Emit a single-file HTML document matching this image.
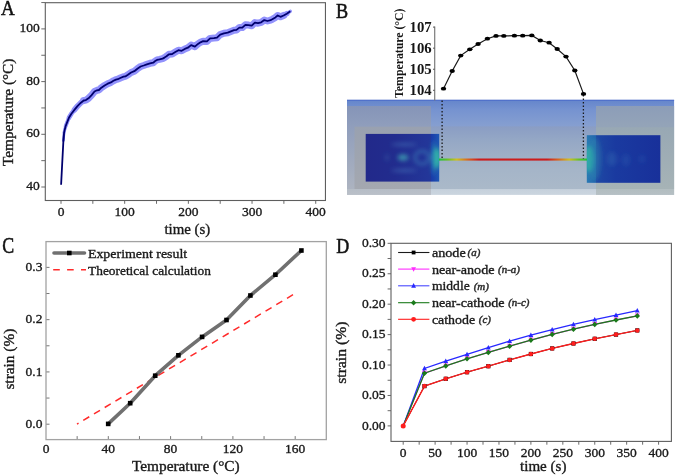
<!DOCTYPE html>
<html><head><meta charset="utf-8"><style>
html,body{margin:0;padding:0;background:#fff;}
body{width:675px;height:476px;overflow:hidden;}
svg{display:block;font-family:"Liberation Serif", serif;will-change:transform;}
</style></head><body>
<svg width="675" height="476" viewBox="0 0 675 476">
<defs>
<linearGradient id="bgM" x1="0" y1="99.5" x2="0" y2="194.9" gradientUnits="userSpaceOnUse">
<stop offset="0" stop-color="#4f70c6"/>
<stop offset="0.015" stop-color="#6686cc"/>
<stop offset="0.11" stop-color="#7693d0"/>
<stop offset="0.28" stop-color="#869fd0"/>
<stop offset="0.285" stop-color="#8a9dc4"/>
<stop offset="0.42" stop-color="#94a7c5"/>
<stop offset="0.58" stop-color="#9eafc6"/>
<stop offset="0.74" stop-color="#a5b5c8"/>
<stop offset="0.937" stop-color="#aab9c9"/>
<stop offset="0.944" stop-color="#c6d1dc"/>
<stop offset="1" stop-color="#cbd5df"/>
</linearGradient>
<linearGradient id="bgL" x1="0" y1="106" x2="0" y2="194.9" gradientUnits="userSpaceOnUse">
<stop offset="0" stop-color="#8594b8"/>
<stop offset="0.23" stop-color="#909ebc"/>
<stop offset="0.93" stop-color="#acb3c0"/>
<stop offset="0.937" stop-color="#b6bdc6"/>
<stop offset="1" stop-color="#bac0c8"/>
</linearGradient>
<linearGradient id="bgLi" x1="0" y1="126.7" x2="0" y2="189" gradientUnits="userSpaceOnUse">
<stop offset="0" stop-color="#99a1b0"/>
<stop offset="1" stop-color="#a4a8b0"/>
</linearGradient>
<linearGradient id="bgR" x1="0" y1="106" x2="0" y2="194.9" gradientUnits="userSpaceOnUse">
<stop offset="0" stop-color="#8c9db8"/>
<stop offset="0.235" stop-color="#94a4b8"/>
<stop offset="0.245" stop-color="#98a8b4"/>
<stop offset="0.93" stop-color="#a6b3b6"/>
<stop offset="0.937" stop-color="#b2bdc0"/>
<stop offset="1" stop-color="#b6c0c4"/>
</linearGradient>
<linearGradient id="wire" x1="439" y1="0" x2="587" y2="0" gradientUnits="userSpaceOnUse">
<stop offset="0" stop-color="#20c040"/>
<stop offset="0.05" stop-color="#60c028"/>
<stop offset="0.12" stop-color="#d0c020"/>
<stop offset="0.2" stop-color="#d86020"/>
<stop offset="0.27" stop-color="#cc1c1c"/>
<stop offset="0.73" stop-color="#cc1c1c"/>
<stop offset="0.8" stop-color="#d86020"/>
<stop offset="0.88" stop-color="#d0c020"/>
<stop offset="0.95" stop-color="#60c028"/>
<stop offset="1" stop-color="#20c040"/>
</linearGradient>
<linearGradient id="elL" x1="365.7" y1="0" x2="431" y2="0" gradientUnits="userSpaceOnUse">
<stop offset="0" stop-color="#22298a"/>
<stop offset="0.45" stop-color="#222c8e"/>
<stop offset="1" stop-color="#23379a"/>
</linearGradient>
<linearGradient id="elLs" x1="431" y1="0" x2="439.2" y2="0" gradientUnits="userSpaceOnUse">
<stop offset="0" stop-color="#1a3aa8"/>
<stop offset="1" stop-color="#1e56b4"/>
</linearGradient>
<linearGradient id="elRs" x1="586.8" y1="0" x2="596" y2="0" gradientUnits="userSpaceOnUse">
<stop offset="0" stop-color="#2a7ab4"/>
<stop offset="1" stop-color="#2060ac"/>
</linearGradient>
<linearGradient id="elR" x1="596" y1="0" x2="660.4" y2="0" gradientUnits="userSpaceOnUse">
<stop offset="0" stop-color="#1e48a4"/>
<stop offset="0.3" stop-color="#1a3aa0"/>
<stop offset="1" stop-color="#18309a"/>
</linearGradient>
<radialGradient id="glowL" cx="437" cy="158" r="12" gradientUnits="userSpaceOnUse">
<stop offset="0" stop-color="#30c8a0" stop-opacity="0.95"/>
<stop offset="0.5" stop-color="#2aa0a8" stop-opacity="0.6"/>
<stop offset="1" stop-color="#2a80b0" stop-opacity="0"/>
</radialGradient>
<radialGradient id="glowR" cx="589" cy="159" r="13" gradientUnits="userSpaceOnUse">
<stop offset="0" stop-color="#30c8a0" stop-opacity="0.95"/>
<stop offset="0.5" stop-color="#2aa8a8" stop-opacity="0.6"/>
<stop offset="1" stop-color="#2a80b0" stop-opacity="0"/>
</radialGradient>
<filter id="blur1" x="-50%" y="-50%" width="200%" height="200%"><feGaussianBlur stdDeviation="1.6"/></filter>
<filter id="blur2" x="-50%" y="-50%" width="200%" height="200%"><feGaussianBlur stdDeviation="2.2"/></filter>
<clipPath id="cL"><rect x="365.7" y="133.9" width="73.5" height="47.7"/></clipPath>
<clipPath id="cR"><rect x="586.8" y="135.2" width="73.6" height="47.6"/></clipPath>
</defs>

<text transform="translate(0.88,15.30) scale(0.868,1)" font-size="21.9" stroke="#111" stroke-width="0.55" fill="#111">A</text>
<line x1="41.3" y1="187.00" x2="45.3" y2="187.00" stroke="#6a6a6a" stroke-width="1"/>
<line x1="41.3" y1="160.65" x2="45.3" y2="160.65" stroke="#6a6a6a" stroke-width="1"/>
<line x1="41.3" y1="134.30" x2="45.3" y2="134.30" stroke="#6a6a6a" stroke-width="1"/>
<line x1="41.3" y1="107.95" x2="45.3" y2="107.95" stroke="#6a6a6a" stroke-width="1"/>
<line x1="41.3" y1="81.60" x2="45.3" y2="81.60" stroke="#6a6a6a" stroke-width="1"/>
<line x1="41.3" y1="55.25" x2="45.3" y2="55.25" stroke="#6a6a6a" stroke-width="1"/>
<line x1="41.3" y1="28.90" x2="45.3" y2="28.90" stroke="#6a6a6a" stroke-width="1"/>
<line x1="41.3" y1="2.55" x2="45.3" y2="2.55" stroke="#6a6a6a" stroke-width="1"/>
<text transform="translate(39.70,190.10)" font-size="13.5" text-anchor="end" stroke="#1a1a1a" stroke-width="0.35" fill="#1a1a1a">40</text>
<text transform="translate(39.70,137.40)" font-size="13.5" text-anchor="end" stroke="#1a1a1a" stroke-width="0.35" fill="#1a1a1a">60</text>
<text transform="translate(39.70,84.70)" font-size="13.5" text-anchor="end" stroke="#1a1a1a" stroke-width="0.35" fill="#1a1a1a">80</text>
<text transform="translate(39.70,32.00)" font-size="13.5" text-anchor="end" stroke="#1a1a1a" stroke-width="0.35" fill="#1a1a1a">100</text>
<line x1="61.00" y1="200.5" x2="61.00" y2="203.8" stroke="#6a6a6a" stroke-width="1"/>
<line x1="92.84" y1="200.5" x2="92.84" y2="203.8" stroke="#6a6a6a" stroke-width="1"/>
<line x1="124.68" y1="200.5" x2="124.68" y2="203.8" stroke="#6a6a6a" stroke-width="1"/>
<line x1="156.52" y1="200.5" x2="156.52" y2="203.8" stroke="#6a6a6a" stroke-width="1"/>
<line x1="188.36" y1="200.5" x2="188.36" y2="203.8" stroke="#6a6a6a" stroke-width="1"/>
<line x1="220.20" y1="200.5" x2="220.20" y2="203.8" stroke="#6a6a6a" stroke-width="1"/>
<line x1="252.04" y1="200.5" x2="252.04" y2="203.8" stroke="#6a6a6a" stroke-width="1"/>
<line x1="283.88" y1="200.5" x2="283.88" y2="203.8" stroke="#6a6a6a" stroke-width="1"/>
<line x1="315.72" y1="200.5" x2="315.72" y2="203.8" stroke="#6a6a6a" stroke-width="1"/>
<text transform="translate(61.00,215.80)" font-size="13.5" text-anchor="middle" stroke="#1a1a1a" stroke-width="0.35" fill="#1a1a1a">0</text>
<text transform="translate(124.68,215.80)" font-size="13.5" text-anchor="middle" stroke="#1a1a1a" stroke-width="0.35" fill="#1a1a1a">100</text>
<text transform="translate(188.36,215.80)" font-size="13.5" text-anchor="middle" stroke="#1a1a1a" stroke-width="0.35" fill="#1a1a1a">200</text>
<text transform="translate(252.04,215.80)" font-size="13.5" text-anchor="middle" stroke="#1a1a1a" stroke-width="0.35" fill="#1a1a1a">300</text>
<text transform="translate(315.72,215.80)" font-size="13.5" text-anchor="middle" stroke="#1a1a1a" stroke-width="0.35" fill="#1a1a1a">400</text>
<text transform="translate(164.40,233.50) scale(1.064,1)" font-size="14" stroke="#1a1a1a" stroke-width="0.35" fill="#1a1a1a">time (s)</text>
<text transform="translate(13.20,166.00) rotate(-90) scale(1.094,1)" font-size="14" stroke="#1a1a1a" stroke-width="0.35" fill="#1a1a1a">Temperature (°C)</text>
<polyline points="63.4,140.7 64.1,132.4 65.6,126.3" fill="none" stroke="#5050d8" stroke-width="2.5" stroke-linejoin="round" stroke-linecap="round"/>
<polyline points="64.1,132.4 65.6,126.3 67.4,121.6" fill="none" stroke="#9292fc" stroke-width="3.0" stroke-linejoin="round" stroke-linecap="round"/>
<polyline points="65.6,126.3 67.4,121.6 68.9,117.8 71.4,113.7" fill="none" stroke="#9292fc" stroke-width="3.8" stroke-linejoin="round" stroke-linecap="round"/>
<polyline points="68.9,117.8 71.4,113.7 74.6,109.6 77.7,105.9" fill="none" stroke="#9292fc" stroke-width="4.6" stroke-linejoin="round" stroke-linecap="round"/>
<polyline points="74.6,109.6 77.7,105.9 80.9,102.7 83.7,100.5 85.9,100.1" fill="none" stroke="#9292fc" stroke-width="5.6" stroke-linejoin="round" stroke-linecap="round"/>
<polyline points="83.7,100.5 85.9,100.1 88.5,98.3 91.6,95.1 94.5,91.5 97.0,90.3 98.9,90.0 101.4,87.7 104.6,85.5 107.7,83.7 110.9,82.4 113.4,80.8 115.9,79.6 117.8,79.2 120.3,78.0 123.5,76.7 125.4,76.4 127.9,74.8 131.1,72.5 134.3,71.2 137.4,68.7 140.6,66.5 143.7,65.5 146.9,64.3 150.0,63.3 153.2,62.7 155.1,61.1 157.0,59.9 159.5,59.4 162.6,58.6 164.5,57.6 166.5,56.3 169.0,54.3 172.2,54.0 175.3,52.1 178.5,50.2 181.6,50.8 184.8,48.9 187.9,47.7 191.1,45.1 194.9,46.7 198.0,43.9 200.5,42.3 203.1,41.2 206.9,41.4 210.1,38.4 213.9,38.1 217.0,37.7 220.2,34.6 223.9,33.3 227.7,32.7 230.9,31.4 234.0,30.2 236.5,29.9 239.4,27.6 242.3,27.6 245.4,24.8 248.6,25.1 251.7,25.7 254.9,22.6 258.0,23.2 261.2,22.3 264.3,20.1 267.5,21.0 270.6,20.1 272.3,19.3 275.4,17.4 277.7,15.5 280.5,16.8 283.6,15.5" fill="none" stroke="#9292fc" stroke-width="7.0" stroke-linejoin="round" stroke-linecap="round"/>
<polyline points="280.5,16.8 283.6,15.5 286.8,13.7" fill="none" stroke="#9292fc" stroke-width="5.4" stroke-linejoin="round" stroke-linecap="round"/>
<polyline points="283.6,15.5 286.8,13.7 290.3,11.3" fill="none" stroke="#9292fc" stroke-width="3.4" stroke-linejoin="round" stroke-linecap="round"/>
<polyline points="61.1,184.7 62.2,163.5 63.4,140.7 64.1,132.4 65.6,126.3 67.4,121.6 68.9,117.8 71.4,113.7 74.6,109.6 77.7,105.9 80.9,102.7 83.7,100.5 85.9,100.1 88.5,98.3 91.6,95.1 94.5,91.5 97.0,90.3 98.9,90.0 101.4,87.7 104.6,85.5 107.7,83.7 110.9,82.4 113.4,80.8 115.9,79.6 117.8,79.2 120.3,78.0 123.5,76.7 125.4,76.4 127.9,74.8 131.1,72.5 134.3,71.2 137.4,68.7 140.6,66.5 143.7,65.5 146.9,64.3 150.0,63.3 153.2,62.7 155.1,61.1 157.0,59.9 159.5,59.4 162.6,58.6 164.5,57.6 166.5,56.3 169.0,54.3 172.2,54.0 175.3,52.1 178.5,50.2 181.6,50.8 184.8,48.9 187.9,47.7 191.1,45.1 194.9,46.7 198.0,43.9 200.5,42.3 203.1,41.2 206.9,41.4 210.1,38.4 213.9,38.1 217.0,37.7 220.2,34.6 223.9,33.3 227.7,32.7 230.9,31.4 234.0,30.2 236.5,29.9 239.4,27.6 242.3,27.6 245.4,24.8 248.6,25.1 251.7,25.7 254.9,22.6 258.0,23.2 261.2,22.3 264.3,20.1 267.5,21.0 270.6,20.1 272.3,19.3 275.4,17.4 277.7,15.5 280.5,16.8 283.6,15.5 286.8,13.7 290.3,11.3" fill="none" stroke="#00006e" stroke-width="1.8" stroke-linejoin="round"/>
<rect x="45.3" y="2.7" width="280.15" height="197.80" fill="none" stroke="#5e5e5e" stroke-width="1.1"/>
<text transform="translate(336.10,17.90) scale(0.843,1)" font-size="21.6" stroke="#111" stroke-width="0.55" fill="#111">B</text>
<rect x="347" y="99.75" width="327.1" height="95.15" fill="url(#bgM)"/>
<rect x="347" y="106" width="84" height="88.9" fill="url(#bgL)"/>
<rect x="354.5" y="126.7" width="76.5" height="62.3" fill="url(#bgLi)"/>
<rect x="596" y="106" width="78.1" height="88.9" fill="url(#bgR)"/>
<rect x="365.7" y="133.9" width="65.3" height="47.7" fill="url(#elL)"/>
<rect x="431" y="133.9" width="8.2" height="47.7" fill="url(#elLs)"/>
<g clip-path="url(#cL)"><g filter="url(#blur2)"><ellipse cx="404" cy="144.5" rx="13" ry="1.4" fill="#4a80c0" opacity="0.55"/><ellipse cx="404" cy="170.5" rx="13" ry="1.4" fill="#4a80c0" opacity="0.55"/><ellipse cx="403" cy="157.5" rx="5.5" ry="3.2" fill="#40a8b4" opacity="0.75"/><ellipse cx="422" cy="157.5" rx="7" ry="6.5" fill="none" stroke="#4088bc" stroke-width="2.6" opacity="0.6"/><ellipse cx="387" cy="157.5" rx="2" ry="3.5" fill="#3a70b0" opacity="0.35"/><ellipse cx="436.5" cy="158" rx="4" ry="10.5" fill="#34c4a4" opacity="0.95"/><ellipse cx="434" cy="158" rx="3" ry="17" fill="#2a8ab4" opacity="0.55"/></g></g>
<rect x="586.8" y="135.2" width="9.2" height="47.6" fill="url(#elRs)"/>
<rect x="596" y="135.2" width="64.4" height="47.6" fill="url(#elR)"/>
<g clip-path="url(#cR)"><g filter="url(#blur2)"><ellipse cx="589" cy="159" rx="5" ry="13" fill="#30c0a4" opacity="0.85"/><ellipse cx="594" cy="159" rx="7" ry="22" fill="#2a8ab0" opacity="0.45"/><ellipse cx="612" cy="159" rx="5" ry="7" fill="#3070b4" opacity="0.35"/><ellipse cx="626" cy="160" rx="4" ry="6" fill="#3068b4" opacity="0.3"/><ellipse cx="642" cy="159" rx="3" ry="4" fill="#3068b4" opacity="0.25"/></g></g>
<rect x="439" y="158.5" width="148" height="2.1" fill="url(#wire)"/>
<line x1="347" y1="100.4" x2="674.1" y2="100.4" stroke="#4e6ec8" stroke-width="0.9"/>
<line x1="442.1" y1="100.5" x2="442.1" y2="158.5" stroke="#1a1a1a" stroke-width="1.3" stroke-dasharray="1.6,1.9"/>
<line x1="583.4" y1="95" x2="583.4" y2="158.5" stroke="#1a1a1a" stroke-width="1.3" stroke-dasharray="1.6,1.9"/>
<line x1="434.7" y1="26.6" x2="434.7" y2="100.6" stroke="#7a7a7a" stroke-width="1.2"/>
<line x1="433" y1="27.10" x2="434.7" y2="27.10" stroke="#555" stroke-width="1"/>
<text transform="translate(431.70,31.90) scale(1.070,1)" font-size="13.8" text-anchor="end" font-weight="bold" fill="#151515">107</text>
<line x1="433" y1="48.17" x2="434.7" y2="48.17" stroke="#555" stroke-width="1"/>
<text transform="translate(431.70,52.97) scale(1.070,1)" font-size="13.8" text-anchor="end" font-weight="bold" fill="#151515">106</text>
<line x1="433" y1="69.24" x2="434.7" y2="69.24" stroke="#555" stroke-width="1"/>
<text transform="translate(431.70,74.04) scale(1.070,1)" font-size="13.8" text-anchor="end" font-weight="bold" fill="#151515">105</text>
<line x1="433" y1="90.31" x2="434.7" y2="90.31" stroke="#555" stroke-width="1"/>
<text transform="translate(431.70,95.11) scale(1.070,1)" font-size="13.8" text-anchor="end" font-weight="bold" fill="#151515">104</text>
<text transform="translate(403.10,97.90) rotate(-90) scale(0.983,1)" font-size="12" font-weight="bold" fill="#151515">Temperature (°C)</text>
<polyline points="443.5,88.7 452.2,71 460.7,55.6 469.8,49.3 478.1,44 487.4,38.7 496,35.9 503.8,35.9 514.4,35.7 522.7,35.7 531.8,35.4 540.3,40.5 549.1,42.7 557.2,49 566,56.6 574.8,70.5 583.5,93.9" fill="none" stroke="#1a1a1a" stroke-width="1.2"/>
<ellipse cx="443.5" cy="88.7" rx="2.7" ry="1.9" fill="#000"/>
<ellipse cx="452.2" cy="71" rx="2.7" ry="1.9" fill="#000"/>
<ellipse cx="460.7" cy="55.6" rx="2.7" ry="1.9" fill="#000"/>
<ellipse cx="469.8" cy="49.3" rx="2.7" ry="1.9" fill="#000"/>
<ellipse cx="478.1" cy="44" rx="2.7" ry="1.9" fill="#000"/>
<ellipse cx="487.4" cy="38.7" rx="2.7" ry="1.9" fill="#000"/>
<ellipse cx="496" cy="35.9" rx="2.7" ry="1.9" fill="#000"/>
<ellipse cx="503.8" cy="35.9" rx="2.7" ry="1.9" fill="#000"/>
<ellipse cx="514.4" cy="35.7" rx="2.7" ry="1.9" fill="#000"/>
<ellipse cx="522.7" cy="35.7" rx="2.7" ry="1.9" fill="#000"/>
<ellipse cx="531.8" cy="35.4" rx="2.7" ry="1.9" fill="#000"/>
<ellipse cx="540.3" cy="40.5" rx="2.7" ry="1.9" fill="#000"/>
<ellipse cx="549.1" cy="42.7" rx="2.7" ry="1.9" fill="#000"/>
<ellipse cx="557.2" cy="49" rx="2.7" ry="1.9" fill="#000"/>
<ellipse cx="566" cy="56.6" rx="2.7" ry="1.9" fill="#000"/>
<ellipse cx="574.8" cy="70.5" rx="2.7" ry="1.9" fill="#000"/>
<ellipse cx="583.5" cy="93.9" rx="2.7" ry="1.9" fill="#000"/>
<text transform="translate(2.15,252.70) scale(0.797,1)" font-size="22.4" stroke="#111" stroke-width="0.55" fill="#111">C</text>
<line x1="46.0" y1="424.20" x2="49.5" y2="424.20" stroke="#777" stroke-width="1"/>
<line x1="46.0" y1="398.06" x2="49.5" y2="398.06" stroke="#777" stroke-width="1"/>
<line x1="46.0" y1="371.93" x2="49.5" y2="371.93" stroke="#777" stroke-width="1"/>
<line x1="46.0" y1="345.79" x2="49.5" y2="345.79" stroke="#777" stroke-width="1"/>
<line x1="46.0" y1="319.66" x2="49.5" y2="319.66" stroke="#777" stroke-width="1"/>
<line x1="46.0" y1="293.52" x2="49.5" y2="293.52" stroke="#777" stroke-width="1"/>
<line x1="46.0" y1="267.39" x2="49.5" y2="267.39" stroke="#777" stroke-width="1"/>
<text transform="translate(42.40,427.90)" font-size="13.5" text-anchor="end" stroke="#1a1a1a" stroke-width="0.35" fill="#1a1a1a">0.0</text>
<text transform="translate(42.40,375.63)" font-size="13.5" text-anchor="end" stroke="#1a1a1a" stroke-width="0.35" fill="#1a1a1a">0.1</text>
<text transform="translate(42.40,323.36)" font-size="13.5" text-anchor="end" stroke="#1a1a1a" stroke-width="0.35" fill="#1a1a1a">0.2</text>
<text transform="translate(42.40,271.09)" font-size="13.5" text-anchor="end" stroke="#1a1a1a" stroke-width="0.35" fill="#1a1a1a">0.3</text>
<line x1="77.15" y1="439.6" x2="77.15" y2="436.1" stroke="#777" stroke-width="1"/>
<line x1="108.30" y1="439.6" x2="108.30" y2="436.1" stroke="#777" stroke-width="1"/>
<line x1="139.45" y1="439.6" x2="139.45" y2="436.1" stroke="#777" stroke-width="1"/>
<line x1="170.60" y1="439.6" x2="170.60" y2="436.1" stroke="#777" stroke-width="1"/>
<line x1="201.75" y1="439.6" x2="201.75" y2="436.1" stroke="#777" stroke-width="1"/>
<line x1="232.90" y1="439.6" x2="232.90" y2="436.1" stroke="#777" stroke-width="1"/>
<line x1="264.05" y1="439.6" x2="264.05" y2="436.1" stroke="#777" stroke-width="1"/>
<line x1="295.20" y1="439.6" x2="295.20" y2="436.1" stroke="#777" stroke-width="1"/>
<text transform="translate(46.00,452.90)" font-size="13.5" text-anchor="middle" stroke="#1a1a1a" stroke-width="0.35" fill="#1a1a1a">0</text>
<text transform="translate(108.30,452.90)" font-size="13.5" text-anchor="middle" stroke="#1a1a1a" stroke-width="0.35" fill="#1a1a1a">40</text>
<text transform="translate(170.60,452.90)" font-size="13.5" text-anchor="middle" stroke="#1a1a1a" stroke-width="0.35" fill="#1a1a1a">80</text>
<text transform="translate(232.90,452.90)" font-size="13.5" text-anchor="middle" stroke="#1a1a1a" stroke-width="0.35" fill="#1a1a1a">120</text>
<text transform="translate(295.20,452.90)" font-size="13.5" text-anchor="middle" stroke="#1a1a1a" stroke-width="0.35" fill="#1a1a1a">160</text>
<text transform="translate(131.90,470.70) scale(1.097,1)" font-size="14" stroke="#1a1a1a" stroke-width="0.35" fill="#1a1a1a">Temperature (°C)</text>
<text transform="translate(13.90,389.60) rotate(-90) scale(1.097,1)" font-size="14" stroke="#1a1a1a" stroke-width="0.35" fill="#1a1a1a">strain (%)</text>
<line x1="77" y1="424.1" x2="296.2" y2="292.8" stroke="#ff2a2a" stroke-width="1.5" stroke-dasharray="7,5.5" stroke-dashoffset="-7.3"/>
<polyline points="108.2,423.9 130.2,403.2 155.2,375.7 178.4,355.3 202.1,336.9 226.5,320 250.4,295.5 275.4,274.7 301.4,250.5" fill="none" stroke="#707070" stroke-width="3.6" stroke-linejoin="round"/>
<rect x="105.9" y="421.6" width="4.6" height="4.6" fill="#000"/>
<rect x="127.9" y="400.9" width="4.6" height="4.6" fill="#000"/>
<rect x="152.9" y="373.4" width="4.6" height="4.6" fill="#000"/>
<rect x="176.1" y="353.0" width="4.6" height="4.6" fill="#000"/>
<rect x="199.8" y="334.6" width="4.6" height="4.6" fill="#000"/>
<rect x="224.2" y="317.7" width="4.6" height="4.6" fill="#000"/>
<rect x="248.1" y="293.2" width="4.6" height="4.6" fill="#000"/>
<rect x="273.1" y="272.4" width="4.6" height="4.6" fill="#000"/>
<rect x="299.1" y="248.2" width="4.6" height="4.6" fill="#000"/>
<line x1="54" y1="253" x2="84.5" y2="253" stroke="#707070" stroke-width="3.6" stroke-linecap="round"/>
<rect x="67" y="250.7" width="4.6" height="4.6" fill="#000"/>
<text transform="translate(87.90,258.20) scale(1.032,1)" font-size="13.5" stroke="#1a1a1a" stroke-width="0.35" fill="#1a1a1a">Experiment result</text>
<line x1="53.2" y1="269.7" x2="86" y2="269.7" stroke="#ff2a2a" stroke-width="1.5" stroke-dasharray="6.6,7.3"/>
<text transform="translate(88.10,274.80) scale(0.990,1)" font-size="13.5" stroke="#1a1a1a" stroke-width="0.35" fill="#1a1a1a">Theoretical calculation</text>
<rect x="46.0" y="241.6" width="280.30" height="198.00" fill="none" stroke="#a2a2a2" stroke-width="1.3"/>
<text transform="translate(336.30,252.90) scale(0.825,1)" font-size="21.8" stroke="#111" stroke-width="0.55" fill="#111">D</text>
<line x1="387.6" y1="425.90" x2="391.0" y2="425.90" stroke="#6a6a6a" stroke-width="1"/>
<line x1="387.6" y1="410.69" x2="391.0" y2="410.69" stroke="#6a6a6a" stroke-width="1"/>
<line x1="387.6" y1="395.47" x2="391.0" y2="395.47" stroke="#6a6a6a" stroke-width="1"/>
<line x1="387.6" y1="380.25" x2="391.0" y2="380.25" stroke="#6a6a6a" stroke-width="1"/>
<line x1="387.6" y1="365.04" x2="391.0" y2="365.04" stroke="#6a6a6a" stroke-width="1"/>
<line x1="387.6" y1="349.82" x2="391.0" y2="349.82" stroke="#6a6a6a" stroke-width="1"/>
<line x1="387.6" y1="334.61" x2="391.0" y2="334.61" stroke="#6a6a6a" stroke-width="1"/>
<line x1="387.6" y1="319.39" x2="391.0" y2="319.39" stroke="#6a6a6a" stroke-width="1"/>
<line x1="387.6" y1="304.18" x2="391.0" y2="304.18" stroke="#6a6a6a" stroke-width="1"/>
<line x1="387.6" y1="288.96" x2="391.0" y2="288.96" stroke="#6a6a6a" stroke-width="1"/>
<line x1="387.6" y1="273.75" x2="391.0" y2="273.75" stroke="#6a6a6a" stroke-width="1"/>
<line x1="387.6" y1="258.53" x2="391.0" y2="258.53" stroke="#6a6a6a" stroke-width="1"/>
<line x1="387.6" y1="243.32" x2="391.0" y2="243.32" stroke="#6a6a6a" stroke-width="1"/>
<text transform="translate(385.60,429.60)" font-size="13.5" text-anchor="end" stroke="#1a1a1a" stroke-width="0.35" fill="#1a1a1a">0.00</text>
<text transform="translate(385.60,399.17)" font-size="13.5" text-anchor="end" stroke="#1a1a1a" stroke-width="0.35" fill="#1a1a1a">0.05</text>
<text transform="translate(385.60,368.74)" font-size="13.5" text-anchor="end" stroke="#1a1a1a" stroke-width="0.35" fill="#1a1a1a">0.10</text>
<text transform="translate(385.60,338.31)" font-size="13.5" text-anchor="end" stroke="#1a1a1a" stroke-width="0.35" fill="#1a1a1a">0.15</text>
<text transform="translate(385.60,307.88)" font-size="13.5" text-anchor="end" stroke="#1a1a1a" stroke-width="0.35" fill="#1a1a1a">0.20</text>
<text transform="translate(385.60,277.45)" font-size="13.5" text-anchor="end" stroke="#1a1a1a" stroke-width="0.35" fill="#1a1a1a">0.25</text>
<text transform="translate(385.60,247.02)" font-size="13.5" text-anchor="end" stroke="#1a1a1a" stroke-width="0.35" fill="#1a1a1a">0.30</text>
<line x1="403.20" y1="441.4" x2="403.20" y2="444.7" stroke="#6a6a6a" stroke-width="1"/>
<line x1="419.16" y1="441.4" x2="419.16" y2="444.7" stroke="#6a6a6a" stroke-width="1"/>
<line x1="435.12" y1="441.4" x2="435.12" y2="444.7" stroke="#6a6a6a" stroke-width="1"/>
<line x1="451.09" y1="441.4" x2="451.09" y2="444.7" stroke="#6a6a6a" stroke-width="1"/>
<line x1="467.05" y1="441.4" x2="467.05" y2="444.7" stroke="#6a6a6a" stroke-width="1"/>
<line x1="483.01" y1="441.4" x2="483.01" y2="444.7" stroke="#6a6a6a" stroke-width="1"/>
<line x1="498.97" y1="441.4" x2="498.97" y2="444.7" stroke="#6a6a6a" stroke-width="1"/>
<line x1="514.94" y1="441.4" x2="514.94" y2="444.7" stroke="#6a6a6a" stroke-width="1"/>
<line x1="530.90" y1="441.4" x2="530.90" y2="444.7" stroke="#6a6a6a" stroke-width="1"/>
<line x1="546.86" y1="441.4" x2="546.86" y2="444.7" stroke="#6a6a6a" stroke-width="1"/>
<line x1="562.83" y1="441.4" x2="562.83" y2="444.7" stroke="#6a6a6a" stroke-width="1"/>
<line x1="578.79" y1="441.4" x2="578.79" y2="444.7" stroke="#6a6a6a" stroke-width="1"/>
<line x1="594.75" y1="441.4" x2="594.75" y2="444.7" stroke="#6a6a6a" stroke-width="1"/>
<line x1="610.71" y1="441.4" x2="610.71" y2="444.7" stroke="#6a6a6a" stroke-width="1"/>
<line x1="626.67" y1="441.4" x2="626.67" y2="444.7" stroke="#6a6a6a" stroke-width="1"/>
<line x1="642.64" y1="441.4" x2="642.64" y2="444.7" stroke="#6a6a6a" stroke-width="1"/>
<line x1="658.60" y1="441.4" x2="658.60" y2="444.7" stroke="#6a6a6a" stroke-width="1"/>
<text transform="translate(403.20,456.90)" font-size="13.5" text-anchor="middle" stroke="#1a1a1a" stroke-width="0.35" fill="#1a1a1a">0</text>
<text transform="translate(435.12,456.90)" font-size="13.5" text-anchor="middle" stroke="#1a1a1a" stroke-width="0.35" fill="#1a1a1a">50</text>
<text transform="translate(467.05,456.90)" font-size="13.5" text-anchor="middle" stroke="#1a1a1a" stroke-width="0.35" fill="#1a1a1a">100</text>
<text transform="translate(498.97,456.90)" font-size="13.5" text-anchor="middle" stroke="#1a1a1a" stroke-width="0.35" fill="#1a1a1a">150</text>
<text transform="translate(530.90,456.90)" font-size="13.5" text-anchor="middle" stroke="#1a1a1a" stroke-width="0.35" fill="#1a1a1a">200</text>
<text transform="translate(562.83,456.90)" font-size="13.5" text-anchor="middle" stroke="#1a1a1a" stroke-width="0.35" fill="#1a1a1a">250</text>
<text transform="translate(594.75,456.90)" font-size="13.5" text-anchor="middle" stroke="#1a1a1a" stroke-width="0.35" fill="#1a1a1a">300</text>
<text transform="translate(626.67,456.90)" font-size="13.5" text-anchor="middle" stroke="#1a1a1a" stroke-width="0.35" fill="#1a1a1a">350</text>
<text transform="translate(658.60,456.90)" font-size="13.5" text-anchor="middle" stroke="#1a1a1a" stroke-width="0.35" fill="#1a1a1a">400</text>
<text transform="translate(520.00,471.30) scale(1.078,1)" font-size="14" stroke="#1a1a1a" stroke-width="0.35" fill="#1a1a1a">time (s)</text>
<text transform="translate(346.20,383.80) rotate(-90) scale(1.120,1)" font-size="14" stroke="#1a1a1a" stroke-width="0.35" fill="#1a1a1a">strain (%)</text>
<polyline points="403.2,425.9 424.5,386.1 445.8,378.8 467.0,372.2 488.3,366.2 509.6,359.9 530.9,354.0 552.2,348.4 573.4,343.5 594.7,338.8 616.0,334.6 637.3,330.4" fill="none" stroke="#000" stroke-width="1.0"/>
<polyline points="403.2,425.9 424.5,373.2 445.8,365.9 467.0,358.8 488.3,352.4 509.6,346.2 530.9,340.1 552.2,334.4 573.4,329.2 594.7,324.4 616.0,320.0 637.3,315.9" fill="none" stroke="#ff2cff" stroke-width="1.1"/>
<polyline points="403.2,425.9 424.5,368.4 445.8,361.2 467.0,354.4 488.3,347.6 509.6,341.2 530.9,335.2 552.2,329.6 573.4,324.4 594.7,319.6 616.0,315.2 637.3,310.7" fill="none" stroke="#2828ff" stroke-width="1.3"/>
<polyline points="403.2,425.9 424.5,373.2 445.8,365.9 467.0,358.8 488.3,352.4 509.6,346.2 530.9,340.1 552.2,334.4 573.4,329.2 594.7,324.4 616.0,320.0 637.3,315.9" fill="none" stroke="#1a7a1a" stroke-width="1.3"/>
<polyline points="403.2,425.9 424.5,386.1 445.8,378.8 467.0,372.2 488.3,366.2 509.6,359.9 530.9,354.0 552.2,348.4 573.4,343.5 594.7,338.8 616.0,334.6 637.3,330.4" fill="none" stroke="#ff1e1e" stroke-width="1.35"/>
<polygon points="424.48,365.70 426.88,370.30 422.08,370.30" fill="#2828ff"/>
<polygon points="445.76,358.50 448.16,363.10 443.36,363.10" fill="#2828ff"/>
<polygon points="467.04,351.70 469.44,356.30 464.64,356.30" fill="#2828ff"/>
<polygon points="488.32,344.90 490.72,349.50 485.92,349.50" fill="#2828ff"/>
<polygon points="509.61,338.50 512.01,343.10 507.21,343.10" fill="#2828ff"/>
<polygon points="530.89,332.50 533.29,337.10 528.49,337.10" fill="#2828ff"/>
<polygon points="552.17,326.90 554.57,331.50 549.77,331.50" fill="#2828ff"/>
<polygon points="573.45,321.70 575.85,326.30 571.05,326.30" fill="#2828ff"/>
<polygon points="594.73,316.90 597.13,321.50 592.33,321.50" fill="#2828ff"/>
<polygon points="616.01,312.50 618.41,317.10 613.61,317.10" fill="#2828ff"/>
<polygon points="637.29,308.00 639.69,312.60 634.89,312.60" fill="#2828ff"/>
<polygon points="424.48,375.30 426.88,370.70 422.08,370.70" fill="#ff2cff"/>
<polygon points="445.76,368.00 448.16,363.40 443.36,363.40" fill="#ff2cff"/>
<polygon points="467.04,360.90 469.44,356.30 464.64,356.30" fill="#ff2cff"/>
<polygon points="488.32,354.50 490.72,349.90 485.92,349.90" fill="#ff2cff"/>
<polygon points="509.61,348.30 512.01,343.70 507.21,343.70" fill="#ff2cff"/>
<polygon points="530.89,342.20 533.29,337.60 528.49,337.60" fill="#ff2cff"/>
<polygon points="552.17,336.50 554.57,331.90 549.77,331.90" fill="#ff2cff"/>
<polygon points="573.45,331.30 575.85,326.70 571.05,326.70" fill="#ff2cff"/>
<polygon points="594.73,326.50 597.13,321.90 592.33,321.90" fill="#ff2cff"/>
<polygon points="616.01,322.10 618.41,317.50 613.61,317.50" fill="#ff2cff"/>
<polygon points="637.29,318.00 639.69,313.40 634.89,313.40" fill="#ff2cff"/>
<polygon points="424.48,370.40 427.18,373.20 424.48,376.00 421.78,373.20" fill="#1a7a1a"/>
<polygon points="445.76,363.10 448.46,365.90 445.76,368.70 443.06,365.90" fill="#1a7a1a"/>
<polygon points="467.04,356.00 469.74,358.80 467.04,361.60 464.34,358.80" fill="#1a7a1a"/>
<polygon points="488.32,349.60 491.02,352.40 488.32,355.20 485.62,352.40" fill="#1a7a1a"/>
<polygon points="509.61,343.40 512.31,346.20 509.61,349.00 506.91,346.20" fill="#1a7a1a"/>
<polygon points="530.89,337.30 533.59,340.10 530.89,342.90 528.19,340.10" fill="#1a7a1a"/>
<polygon points="552.17,331.60 554.87,334.40 552.17,337.20 549.47,334.40" fill="#1a7a1a"/>
<polygon points="573.45,326.40 576.15,329.20 573.45,332.00 570.75,329.20" fill="#1a7a1a"/>
<polygon points="594.73,321.60 597.43,324.40 594.73,327.20 592.03,324.40" fill="#1a7a1a"/>
<polygon points="616.01,317.20 618.71,320.00 616.01,322.80 613.31,320.00" fill="#1a7a1a"/>
<polygon points="637.29,313.10 639.99,315.90 637.29,318.70 634.59,315.90" fill="#1a7a1a"/>
<rect x="422.38" y="384.00" width="4.20" height="4.20" fill="#000"/>
<rect x="443.66" y="376.70" width="4.20" height="4.20" fill="#000"/>
<rect x="464.94" y="370.10" width="4.20" height="4.20" fill="#000"/>
<rect x="486.22" y="364.10" width="4.20" height="4.20" fill="#000"/>
<rect x="507.51" y="357.80" width="4.20" height="4.20" fill="#000"/>
<rect x="528.79" y="351.90" width="4.20" height="4.20" fill="#000"/>
<rect x="550.07" y="346.30" width="4.20" height="4.20" fill="#000"/>
<rect x="571.35" y="341.40" width="4.20" height="4.20" fill="#000"/>
<rect x="592.63" y="336.70" width="4.20" height="4.20" fill="#000"/>
<rect x="613.91" y="332.50" width="4.20" height="4.20" fill="#000"/>
<rect x="635.19" y="328.30" width="4.20" height="4.20" fill="#000"/>
<circle cx="424.48" cy="386.10" r="2.25" fill="#ff1e1e"/>
<circle cx="445.76" cy="378.80" r="2.25" fill="#ff1e1e"/>
<circle cx="467.04" cy="372.20" r="2.25" fill="#ff1e1e"/>
<circle cx="488.32" cy="366.20" r="2.25" fill="#ff1e1e"/>
<circle cx="509.61" cy="359.90" r="2.25" fill="#ff1e1e"/>
<circle cx="530.89" cy="354.00" r="2.25" fill="#ff1e1e"/>
<circle cx="552.17" cy="348.40" r="2.25" fill="#ff1e1e"/>
<circle cx="573.45" cy="343.50" r="2.25" fill="#ff1e1e"/>
<circle cx="594.73" cy="338.80" r="2.25" fill="#ff1e1e"/>
<circle cx="616.01" cy="334.60" r="2.25" fill="#ff1e1e"/>
<circle cx="637.29" cy="330.40" r="2.25" fill="#ff1e1e"/>
<circle cx="403.2" cy="425.9" r="2.5" fill="#ff1e1e"/>
<line x1="398.1" y1="252.5" x2="429.4" y2="252.5" stroke="#1a1a1a" stroke-width="1.1"/>
<rect x="411.70" y="250.60" width="3.80" height="3.80" fill="#000"/>
<text transform="translate(431.90,256.90) scale(1.050,1)" font-size="13.5" stroke="#1a1a1a" stroke-width="0.35" fill="#1a1a1a">anode</text>
<text transform="translate(467.60,256.30) scale(1.040,1)" font-size="10.5" font-style="italic" stroke="#2a2a2a" stroke-width="0.45" fill="#2a2a2a">(a)</text>
<line x1="398.1" y1="269.1" x2="429.4" y2="269.1" stroke="#ff2cff" stroke-width="1.1"/>
<polygon points="413.60,271.80 416.00,267.20 411.20,267.20" fill="#ff2cff"/>
<text transform="translate(431.90,273.90) scale(1.050,1)" font-size="13.5" stroke="#1a1a1a" stroke-width="0.35" fill="#1a1a1a">near-anode</text>
<text transform="translate(498.10,273.30) scale(1.040,1)" font-size="10.5" font-style="italic" stroke="#2a2a2a" stroke-width="0.45" fill="#2a2a2a">(n-a)</text>
<line x1="398.1" y1="285.8" x2="429.4" y2="285.8" stroke="#4848ff" stroke-width="1.1"/>
<polygon points="413.60,283.10 416.00,287.70 411.20,287.70" fill="#2828ff"/>
<text transform="translate(431.90,290.20) scale(1.010,1)" font-size="13.5" stroke="#1a1a1a" stroke-width="0.35" fill="#1a1a1a">middle</text>
<text transform="translate(473.70,289.60) scale(1.040,1)" font-size="10.5" font-style="italic" stroke="#2a2a2a" stroke-width="0.45" fill="#2a2a2a">(m)</text>
<line x1="398.1" y1="302.7" x2="429.4" y2="302.7" stroke="#1a7a1a" stroke-width="1.1"/>
<polygon points="413.60,299.90 416.30,302.70 413.60,305.50 410.90,302.70" fill="#1a7a1a"/>
<text transform="translate(431.90,306.80) scale(1.047,1)" font-size="13.5" stroke="#1a1a1a" stroke-width="0.35" fill="#1a1a1a">near-cathode</text>
<text transform="translate(508.20,306.20) scale(1.040,1)" font-size="10.5" font-style="italic" stroke="#2a2a2a" stroke-width="0.45" fill="#2a2a2a">(n-c)</text>
<line x1="398.1" y1="319.3" x2="429.4" y2="319.3" stroke="#ff1e1e" stroke-width="1.1"/>
<circle cx="413.6" cy="319.3" r="2.4" fill="#ff1e1e"/>
<text transform="translate(431.90,324.00) scale(1.030,1)" font-size="13.5" stroke="#1a1a1a" stroke-width="0.35" fill="#1a1a1a">cathode</text>
<text transform="translate(478.80,323.40) scale(1.040,1)" font-size="10.5" font-style="italic" stroke="#2a2a2a" stroke-width="0.45" fill="#2a2a2a">(c)</text>
<rect x="391.0" y="243.3" width="280.40" height="198.10" fill="none" stroke="#5e5e5e" stroke-width="1.1"/>
</svg></body></html>
